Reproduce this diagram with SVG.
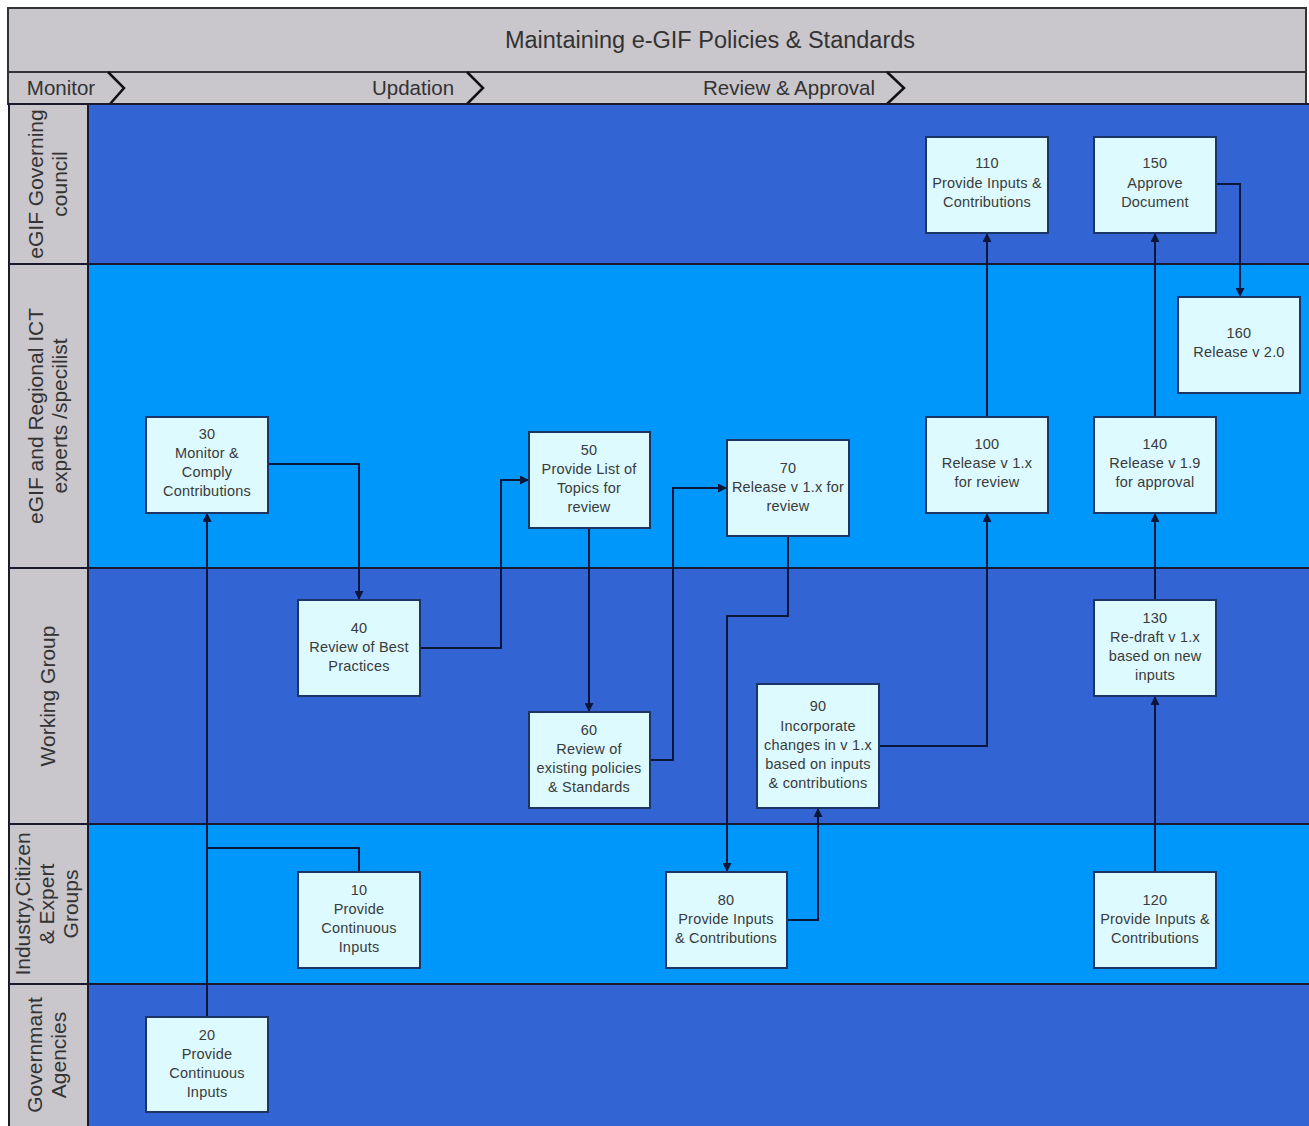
<svg xmlns="http://www.w3.org/2000/svg" width="1309" height="1126" viewBox="0 0 1309 1126">
  <style>
    .band { fill: #c9c6cc; stroke: #333; stroke-width: 2; }
    .laneA { fill: #3265d3; }
    .laneB { fill: #0097fa; }
    .rule { stroke: #1a1a2e; stroke-width: 2; fill: none; }
    .chev { stroke: #111; stroke-width: 2.5; fill: none; }
    .title { font-family: "Liberation Sans", Arial, sans-serif; font-size: 23.5px; fill: #333; text-anchor: middle; }
    .phase { font-family: "Liberation Sans", Arial, sans-serif; font-size: 20.5px; fill: #333; text-anchor: middle; }
    .lane { font-family: "Liberation Sans", Arial, sans-serif; font-size: 21px; fill: #333; text-anchor: middle; }
    .node rect { fill: #dcfaff; stroke: #1b3566; stroke-width: 2; }
    .node text { font-family: "Liberation Sans", Arial, sans-serif; font-size: 14.5px; letter-spacing: 0.2px; fill: #3a3a3a; text-anchor: middle; }
    .conn path { stroke: #0a163a; stroke-width: 2; fill: none; marker-end: url(#arr); }
  </style>
  <defs>
    <marker id="arr" viewBox="0 0 10 10" refX="10" refY="5" markerWidth="9" markerHeight="9" markerUnits="userSpaceOnUse" orient="auto">
      <path d="M0 0 L10 5 L0 10 Z" fill="#0a163a"/>
    </marker>
  </defs>

  <rect width="1309" height="1126" fill="#ffffff"/>

  <!-- swimlane backgrounds -->
  <rect class="laneA" x="88" y="104" width="1221" height="160"/>
  <rect class="laneB" x="88" y="264" width="1221" height="304"/>
  <rect class="laneA" x="88" y="568" width="1221" height="256"/>
  <rect class="laneB" x="88" y="824" width="1221" height="160"/>
  <rect class="laneA" x="88" y="984" width="1221" height="142"/>

  <!-- lane header column -->
  <rect x="8" y="104" width="80" height="1022" fill="#c9c6cc"/>

  <!-- title and phase bands -->
  <rect class="band" x="8" y="8" width="1298" height="64"/>
  <text class="title" x="710" y="48">Maintaining e-GIF Policies &amp; Standards</text>
  <rect class="band" x="8" y="72" width="1298" height="32"/>
  <path class="chev" d="M108 72 L124 88 L110 104"/>
  <path class="chev" d="M467 72 L483 88 L467 104"/>
  <path class="chev" d="M887 72 L904 88 L887 104"/>
  <text class="phase" x="61" y="95">Monitor</text>
  <text class="phase" x="413" y="95">Updation</text>
  <text class="phase" x="789" y="95">Review &amp; Approval</text>

  <!-- lane dividers -->
  <path class="rule" d="M8 104 H1309 M8 264 H1309 M8 568 H1309 M8 824 H1309 M8 984 H1309"/>
  <path class="rule" d="M88 104 V1126 M9 104 V1126"/>

  <!-- lane titles -->
  <text class="lane" transform="translate(43 184) rotate(-90)">eGIF Governing</text>
  <text class="lane" transform="translate(67 184) rotate(-90)">council</text>
  <text class="lane" transform="translate(43 416) rotate(-90)">eGIF and Regional ICT</text>
  <text class="lane" transform="translate(67 416) rotate(-90)">experts /specilist</text>
  <text class="lane" transform="translate(55 696) rotate(-90)">Working Group</text>
  <text class="lane" transform="translate(30 904) rotate(-90)">Industry,Citizen</text>
  <text class="lane" transform="translate(54 904) rotate(-90)">&amp; Expert</text>
  <text class="lane" transform="translate(78 904) rotate(-90)">Groups</text>
  <text class="lane" transform="translate(42 1055) rotate(-90)">Governmant</text>
  <text class="lane" transform="translate(66 1055) rotate(-90)">Agencies</text>

  <!-- connectors -->
  <g class="conn">
    <path d="M207 1017 V513"/>
    <path d="M359 872 V848 H207 V513"/>
    <path d="M268 464 H359 V600"/>
    <path d="M420 648 H501 V480 H529"/>
    <path d="M589 528 V712"/>
    <path d="M650 760 H673 V488 H727"/>
    <path d="M788 536 V616 H727 V872"/>
    <path d="M787 920 H818 V808"/>
    <path d="M879 746 H987 V513"/>
    <path d="M987 417 V233"/>
    <path d="M1155 872 V696"/>
    <path d="M1155 600 V513"/>
    <path d="M1155 417 V233"/>
    <path d="M1216 184 H1240 V297"/>
  </g>

  <!-- process steps -->
  <g id="n10" class="node"><rect x="298" y="872" width="122" height="96"/>
    <text x="359" y="895">10</text><text x="359" y="914">Provide</text><text x="359" y="933">Continuous</text><text x="359" y="952">Inputs</text></g>
  <g id="n20" class="node"><rect x="146" y="1017" width="122" height="95"/>
    <text x="207" y="1040">20</text><text x="207" y="1059">Provide</text><text x="207" y="1078">Continuous</text><text x="207" y="1097">Inputs</text></g>
  <g id="n30" class="node"><rect x="146" y="417" width="122" height="96"/>
    <text x="207" y="439">30</text><text x="207" y="458">Monitor &amp;</text><text x="207" y="477">Comply</text><text x="207" y="496">Contributions</text></g>
  <g id="n40" class="node"><rect x="298" y="600" width="122" height="96"/>
    <text x="359" y="633">40</text><text x="359" y="652">Review of Best</text><text x="359" y="671">Practices</text></g>
  <g id="n50" class="node"><rect x="529" y="432" width="121" height="96"/>
    <text x="589" y="455">50</text><text x="589" y="474">Provide List of</text><text x="589" y="493">Topics for</text><text x="589" y="512">review</text></g>
  <g id="n60" class="node"><rect x="529" y="712" width="121" height="96"/>
    <text x="589" y="735">60</text><text x="589" y="754">Review of</text><text x="589" y="773">existing policies</text><text x="589" y="792">&amp; Standards</text></g>
  <g id="n70" class="node"><rect x="727" y="440" width="122" height="96"/>
    <text x="788" y="473">70</text><text x="788" y="492">Release v 1.x for</text><text x="788" y="511">review</text></g>
  <g id="n80" class="node"><rect x="666" y="872" width="121" height="96"/>
    <text x="726" y="905">80</text><text x="726" y="924">Provide Inputs</text><text x="726" y="943">&amp; Contributions</text></g>
  <g id="n90" class="node"><rect x="757" y="684" width="122" height="124"/>
    <text x="818" y="711">90</text><text x="818" y="731">Incorporate</text><text x="818" y="750">changes in  v 1.x</text><text x="818" y="769">based on inputs</text><text x="818" y="788">&amp; contributions</text></g>
  <g id="n100" class="node"><rect x="926" y="417" width="122" height="96"/>
    <text x="987" y="449">100</text><text x="987" y="468">Release v 1.x</text><text x="987" y="487">for review</text></g>
  <g id="n110" class="node"><rect x="926" y="137" width="122" height="96"/>
    <text x="987" y="168">110</text><text x="987" y="188">Provide Inputs &amp;</text><text x="987" y="207">Contributions</text></g>
  <g id="n120" class="node"><rect x="1094" y="872" width="122" height="96"/>
    <text x="1155" y="905">120</text><text x="1155" y="924">Provide Inputs &amp;</text><text x="1155" y="943">Contributions</text></g>
  <g id="n130" class="node"><rect x="1094" y="600" width="122" height="96"/>
    <text x="1155" y="623">130</text><text x="1155" y="642">Re-draft v 1.x</text><text x="1155" y="661">based on new</text><text x="1155" y="680">inputs</text></g>
  <g id="n140" class="node"><rect x="1094" y="417" width="122" height="96"/>
    <text x="1155" y="449">140</text><text x="1155" y="468">Release v 1.9</text><text x="1155" y="487">for approval</text></g>
  <g id="n150" class="node"><rect x="1094" y="137" width="122" height="96"/>
    <text x="1155" y="168">150</text><text x="1155" y="188">Approve</text><text x="1155" y="207">Document</text></g>
  <g id="n160" class="node"><rect x="1178" y="297" width="122" height="96"/>
    <text x="1239" y="338">160</text><text x="1239" y="357">Release v 2.0</text></g>
</svg>
